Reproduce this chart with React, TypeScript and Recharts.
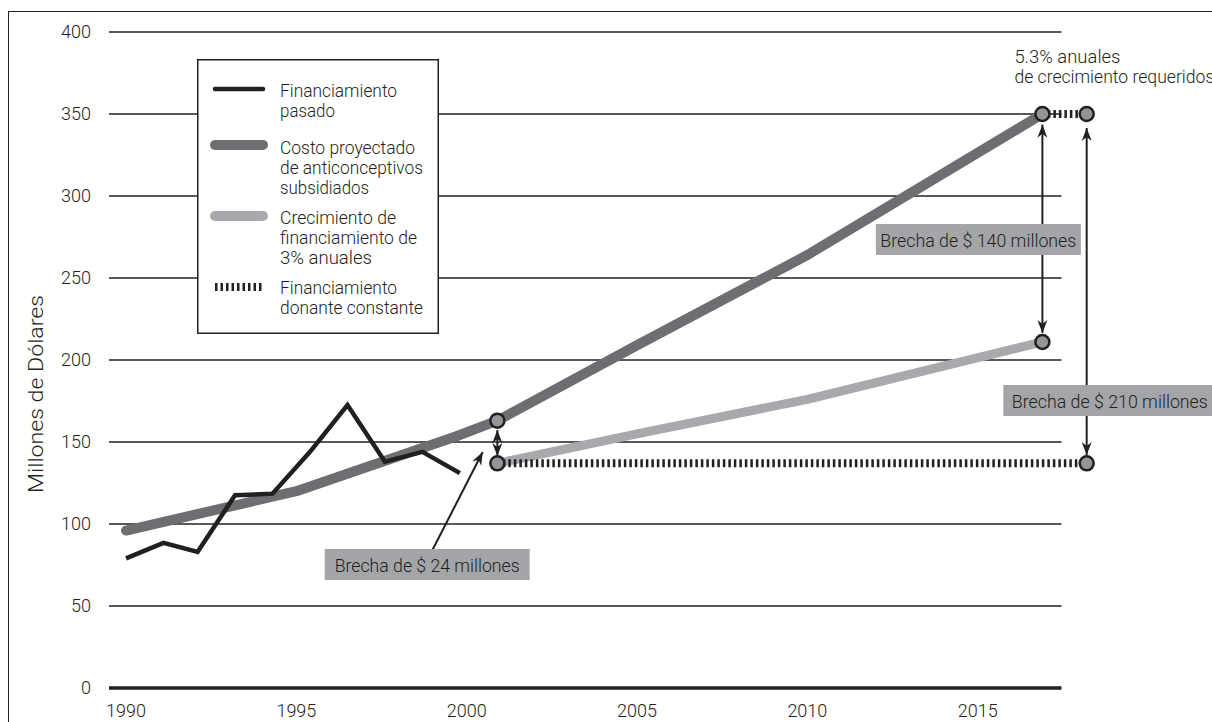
import React from "react";
import {
  ComposedChart,
  Line,
  Scatter,
  XAxis,
  YAxis,
  ReferenceLine,
  ReferenceDot,
  Legend,
} from "recharts";

const FONT = "Roboto, 'Open Sans', 'Liberation Sans', sans-serif";
const WEIGHT = 300;
const INK = "#231f20";
const DARK = "#6d6e71";
const LIGHT = "#a7a9ac";
const DOT = "#939598";
const BOX = "#a3a5a8";

// ejes
const yearTicks = [1990, 1995, 2000, 2005, 2010, 2015];
const valueTicks = [0, 50, 100, 150, 200, 250, 300, 350, 400];

// financiamiento pasado
const pastYears = [1990, 1991.1, 1992.1, 1993.2, 1994.3, 1995.4, 1996.5, 1997.6, 1998.7, 1999.8];
const pastValues = [79, 88.5, 83, 117.5, 118.5, 144, 172.5, 138, 144, 131];

// costo proyectado de anticonceptivos subsidiados
const costYears = [1990, 1995, 1999.7, 2000.9, 2005, 2010, 2016.9];
const costValues = [96, 120, 153.5, 163, 209, 264, 350];

// crecimiento de financiamiento de 3% anuales
const growthYears = [2000.9, 2005, 2010, 2016.9];
const growthValues = [137, 155, 176, 211];

// financiamiento donante constante
const constantYears = [2000.9, 2018.2];
const constantValues = [137, 137];

// 5.3% anuales requeridos
const requiredYears = [2016.9, 2018.2];
const requiredValues = [350, 350];

// puntos marcados
const markerYears = [2000.9, 2000.9, 2016.9, 2016.9, 2018.2, 2018.2];
const markerValues = [163, 137, 350, 211, 350, 137];

const legendLabels = [
  ["Financiamiento", "pasado"],
  ["Costo proyectado", "de anticonceptivos", "subsidiados"],
  ["Crecimiento de", "financiamiento de", "3% anuales"],
  ["Financiamiento", "donante constante"],
];

const gapLabels = ["Brecha de $ 24 millones", "Brecha de $ 140 millones", "Brecha de $ 210 millones"];
const noteLines = ["5.3% anuales", "de crecimiento requeridos"];
const yTitle = "Millones de Dólares";

const zip = (xs: number[], ys: number[]) => xs.map((x, i) => ({ year: x, value: ys[i] }));

const pastData = zip(pastYears, pastValues);
const costData = zip(costYears, costValues);
const growthData = zip(growthYears, growthValues);
const constantData = zip(constantYears, constantValues);
const requiredData = zip(requiredYears, requiredValues);
const markerData = zip(markerYears, markerValues);

const X_MIN = 1989.5;
const GRID_END = 2017.46;

const head = (tx: number, ty: number, fx: number, fy: number) => {
  const dx = tx - fx;
  const dy = ty - fy;
  const len = Math.hypot(dx, dy) || 1;
  const ux = dx / len, uy = dy / len;
  const px = -uy, py = ux;
  const L = 13, W = 5, N = 9;
  const bx = tx - ux * L, by = ty - uy * L;
  const nx = tx - ux * N, ny = ty - uy * N;
  return `${tx},${ty} ${bx + px * W},${by + py * W} ${nx},${ny} ${bx - px * W},${by - py * W}`;
};

const arrow = (both: boolean) => (p: any) => (
  <g>
    <line x1={p.x1} y1={p.y1} x2={p.x2} y2={p.y2} stroke={INK} strokeWidth={2} />
    <polygon points={head(p.x2, p.y2, p.x1, p.y1)} fill={INK} />
    {both && <polygon points={head(p.x1, p.y1, p.x2, p.y2)} fill={INK} />}
  </g>
);

const gapBox = (text: string, w: number, tw: number) => (p: any) => (
  <g>
    <rect x={p.cx - w / 2} y={p.cy - 15.5} width={w} height={31} fill={BOX} />
    <text
      x={p.cx}
      y={p.cy + 1}
      textAnchor="middle"
      dominantBaseline="central"
      fontSize={19}
      fontFamily={FONT}
      fontWeight={WEIGHT}
      fill={INK}
      textLength={tw}
      lengthAdjust="spacingAndGlyphs"
    >
      {text}
    </text>
  </g>
);

const note = (p: any) => (
  <g fontFamily={FONT} fontWeight={WEIGHT} fontSize={18} fill={INK}>
    <text x={p.cx - 28} y={p.cy - 58} dominantBaseline="central" textLength={106} lengthAdjust="spacingAndGlyphs">
      {noteLines[0]}
    </text>
    <text x={p.cx - 28} y={p.cy - 38} dominantBaseline="central" textLength={200} lengthAdjust="spacingAndGlyphs">
      {noteLines[1]}
    </text>
  </g>
);

const marker = (p: any) => (
  <circle cx={p.cx} cy={p.cy} r={7} fill={DOT} stroke={INK} strokeWidth={2.5} />
);

const legendSwatches = [
  { stroke: INK, width: 4.5, dash: undefined, cap: "round", x1: 18, x2: 66, y: 30 },
  { stroke: DARK, width: 10, dash: undefined, cap: "round", x1: 18, x2: 66, y: 86 },
  { stroke: LIGHT, width: 10, dash: undefined, cap: "round", x1: 18, x2: 66, y: 157 },
  { stroke: INK, width: 8, dash: "2.5 3", cap: "butt", x1: 18, x2: 66, y: 228 },
];
const legendTextY = [31, 88, 158, 228];
const legendTextW = [
  [117, 55],
  [135, 143, 89],
  [116, 137, 92],
  [117, 143],
];

const renderLegend = () => (
  <svg width={242} height={275} style={{ display: "block" }}>
    <rect x={0.75} y={0.75} width={240.5} height={273.5} fill="#fff" stroke={INK} strokeWidth={1.5} />
    {legendSwatches.map((s, i) => (
      <g key={i}>
        <line
          x1={s.x1}
          x2={s.x2}
          y1={s.y}
          y2={s.y}
          stroke={s.stroke}
          strokeWidth={s.width}
          strokeLinecap={s.cap as any}
          strokeDasharray={s.dash}
        />
        {legendLabels[i].map((t, j) => (
          <text
            key={j}
            x={83}
            y={legendTextY[i] + j * 20}
            dominantBaseline="central"
            fontFamily={FONT}
            fontWeight={WEIGHT}
            fontSize={19}
            fill={INK}
            textLength={legendTextW[i][j]}
            lengthAdjust="spacingAndGlyphs"
          >
            {t}
          </text>
        ))}
      </g>
    ))}
  </svg>
);

const tickStyle = { fontFamily: FONT, fontWeight: WEIGHT, fontSize: 18, fill: INK };

export default function App() {
  return (
    <div
      style={{
        position: "absolute",
        left: 0,
        top: 0,
        width: 1212,
        height: 722,
        overflow: "hidden",
        background: "#fff",
      }}
    >
      <div
        style={{
          position: "absolute",
          left: 8,
          top: 11,
          width: 1400,
          height: 900,
          border: `1.5px solid ${INK}`,
        }}
      />
      <div style={{ position: "absolute", left: 0, top: 0 }}>
        <ComposedChart width={1212} height={722} margin={{ top: 32, right: 64, bottom: 4, left: 0 }}>
          <XAxis
            type="number"
            dataKey="year"
            domain={[X_MIN, 2020]}
            ticks={yearTicks}
            axisLine={false}
            tickLine={false}
            tickSize={0}
            tickMargin={16}
            height={30}
            tick={tickStyle}
            allowDataOverflow
          />
          <YAxis
            type="number"
            dataKey="value"
            domain={[0, 400]}
            ticks={valueTicks}
            axisLine={false}
            tickLine={false}
            tickSize={0}
            tickMargin={18}
            width={109}
            tick={tickStyle}
            label={{
              content: () => (
                <text
                  transform="translate(43,394) rotate(-90)"
                  textAnchor="middle"
                  fontFamily={FONT}
                  fontWeight={WEIGHT}
                  fontSize={21}
                  fill={INK}
                  textLength={198}
                  lengthAdjust="spacingAndGlyphs"
                >
                  {yTitle}
                </text>
              ),
            }}
          />
          <Legend
            content={renderLegend}
            layout="horizontal"
            align="center"
            verticalAlign="middle"
            wrapperStyle={{ left: 197, top: 59, width: 242, height: 275 }}
          />
          {valueTicks.map((v) => (
            <ReferenceLine
              key={v}
              segment={[
                { x: X_MIN, y: v },
                { x: GRID_END, y: v },
              ]}
              stroke={INK}
              strokeWidth={v === 0 ? 3.5 : 1.6}
            />
          ))}
          <Line
            data={costData}
            dataKey="value"
            stroke={DARK}
            strokeWidth={10}
            strokeLinecap="round"
            strokeLinejoin="round"
            dot={false}
            type="linear"
            isAnimationActive={false}
          />
          <Line
            data={growthData}
            dataKey="value"
            stroke={LIGHT}
            strokeWidth={9}
            strokeLinecap="round"
            strokeLinejoin="round"
            dot={false}
            type="linear"
            isAnimationActive={false}
          />
          <Line
            data={pastData}
            dataKey="value"
            stroke={INK}
            strokeWidth={4.5}
            strokeLinejoin="miter"
            dot={false}
            type="linear"
            isAnimationActive={false}
          />
          <Line
            data={constantData}
            dataKey="value"
            stroke={INK}
            strokeWidth={8}
            strokeDasharray="2.5 3"
            dot={false}
            type="linear"
            isAnimationActive={false}
          />
          <Line
            data={requiredData}
            dataKey="value"
            stroke={INK}
            strokeWidth={8}
            strokeDasharray="2.5 3"
            dot={false}
            type="linear"
            isAnimationActive={false}
          />
          <Scatter data={markerData} dataKey="value" shape={marker} isAnimationActive={false} />
          <ReferenceLine segment={[{ x: 2000.9, y: 157.3 }, { x: 2000.9, y: 141.5 }]} shape={arrow(true)} />
          <ReferenceLine segment={[{ x: 2016.9, y: 343.5 }, { x: 2016.9, y: 216.5 }]} shape={arrow(true)} />
          <ReferenceLine segment={[{ x: 2018.2, y: 341.5 }, { x: 2018.2, y: 142 }]} shape={arrow(true)} />
          <ReferenceLine segment={[{ x: 1998.95, y: 82.3 }, { x: 2000.47, y: 143.9 }]} shape={arrow(false)} />
          <ReferenceDot x={1998.84} y={75.3} r={0} shape={gapBox(gapLabels[0], 205, 185)} />
          <ReferenceDot x={2015.02} y={273.5} r={0} shape={gapBox(gapLabels[1], 205, 196)} />
          <ReferenceDot x={2018.88} y={175.3} r={0} shape={gapBox(gapLabels[2], 213, 196)} />
          <ReferenceDot x={2016.9} y={350} r={0} shape={note} />
        </ComposedChart>
      </div>
    </div>
  );
}
